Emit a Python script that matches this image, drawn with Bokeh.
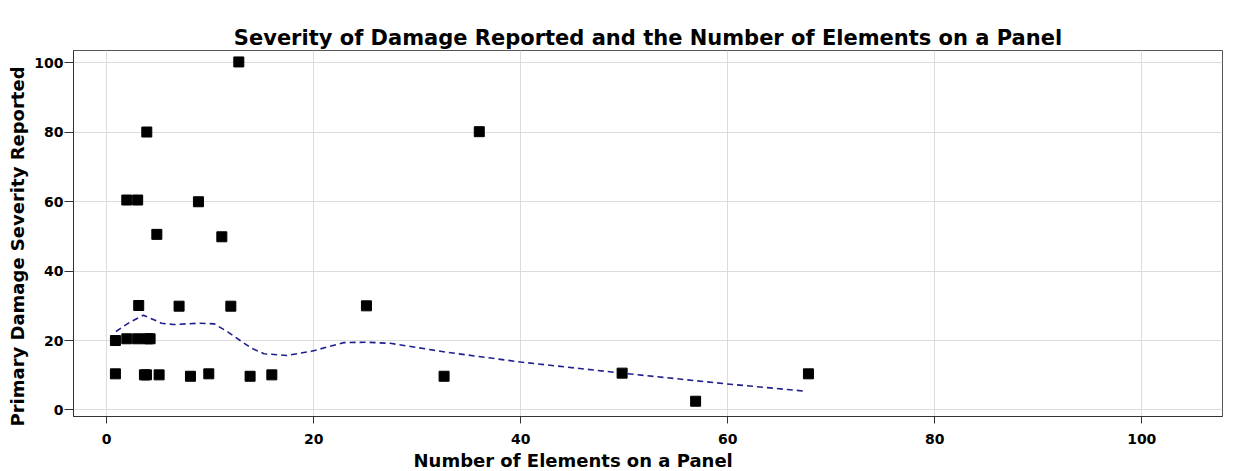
from bokeh.plotting import figure
from bokeh.models import Title, FixedTicker, Range1d
from bokeh.embed import file_html
from bokeh.resources import INLINE

# Scatter data: number of elements on a panel vs. primary damage severity
elements = [0.85, 0.85, 1.95, 1.95, 3.0, 3.0, 3.1, 3.88, 3.65, 3.85, 4.2, 3.95,
            4.85, 5.07, 7.0, 8.1, 8.87, 9.87, 11.13, 12.0, 12.77, 13.86, 15.96,
            25.1, 32.6, 36.0, 49.8, 56.9, 67.8]
severity = [10.4, 20.0, 60.5, 20.5, 60.5, 20.5, 30.1, 80.1, 10.1, 10.1, 20.5, 20.5,
            50.6, 10.1, 29.9, 9.7, 60.0, 10.4, 49.9, 29.9, 100.3, 9.7, 10.1,
            30.0, 9.7, 80.2, 10.6, 2.5, 10.4]

# Smoothed (loess-like) trend
smooth_x = [0.9, 2.2, 3.56, 5.3, 6.45, 9.0, 10.4, 11.7, 12.9, 14.0, 15.2, 17.4,
            19.8, 22.9, 25.1, 27.4, 32.9, 40.0, 49.8, 59.9, 67.5]
smooth_y = [22.6, 25.2, 27.3, 25.0, 24.6, 25.0, 24.8, 22.5, 20.0, 17.8, 16.2, 15.7,
            16.9, 19.4, 19.5, 19.2, 16.6, 13.8, 10.6, 7.5, 5.4]

x_ticks = [0, 20, 40, 60, 80, 100]
y_ticks = [0, 20, 40, 60, 80, 100]

TITLE = "Severity of Damage Reported and the Number of Elements on a Panel"
FONT = "DejaVu Sans"

p = figure(width=1235, height=471,
           x_range=Range1d(-3.2, 107.8), y_range=Range1d(-1.9, 103.6),
           output_backend="svg", toolbar_location=None,
           min_border_left=73, min_border_right=13,
           min_border_top=50, min_border_bottom=55)

# the built-in (empty) title acts as a spacer next to the frame
p.title.text = ""
p.title.standoff = 17

p.add_layout(Title(text=TITLE, align="center", standoff=2,
                   text_font=FONT, text_font_style="bold", text_font_size="21px",
                   text_color="black"), "above")

p.add_layout(Title(text="Number of Elements on a Panel", align="left", offset=340,
                   text_font=FONT, text_font_style="bold", text_font_size="18px",
                   text_color="black", standoff=2), "below")
p.add_layout(Title(text="Primary Damage Severity Reported", align="left", offset=-10,
                   text_font=FONT, text_font_style="bold", text_font_size="18px",
                   text_color="black", standoff=7), "left")

p.line(smooth_x, smooth_y, line_color="#1f1f8f", line_width=1.6, line_dash="6 4")
p.scatter(elements, severity, marker="square", size=10,
          fill_color="black", line_color="black")

for ax, ticks in ((p.xaxis, x_ticks), (p.yaxis, y_ticks)):
    ax.ticker = FixedTicker(ticks=ticks)
    ax.major_label_text_font = FONT
    ax.major_label_text_font_style = "bold"
    ax.major_label_text_font_size = "14px"
    ax.major_label_text_color = "black"
    ax.major_tick_in = 0
    ax.minor_tick_line_color = None
    ax.axis_line_color = "#333333"
    ax.major_tick_line_color = "#333333"

p.xaxis.major_tick_out = 7
p.xaxis.major_label_standoff = 10
p.yaxis.major_tick_out = 9
p.yaxis.major_label_standoff = 1

p.xgrid.grid_line_color = "#dcdcdc"
p.ygrid.grid_line_color = "#dcdcdc"
p.outline_line_color = "#555555"
p.outline_line_width = 1
p.background_fill_color = "white"

open("out.html", "w").write(file_html(p, INLINE))
